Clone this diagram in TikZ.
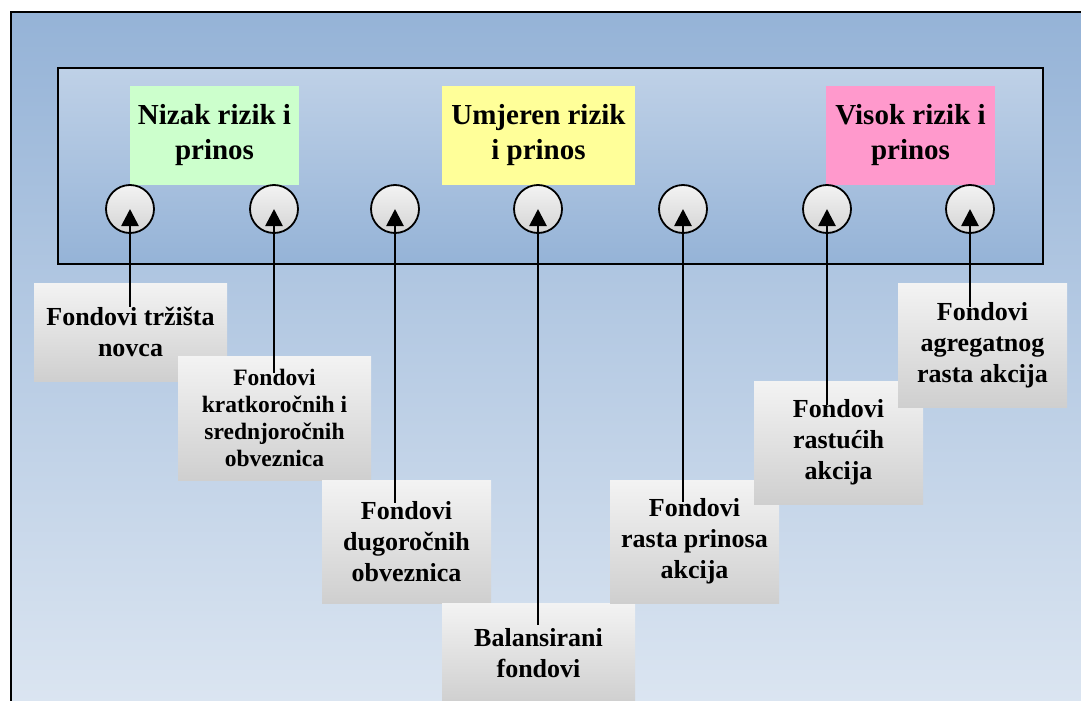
\documentclass[tikz,border=0pt]{standalone}
\usepackage{fontspec}
\setmainfont{Liberation Serif}
\usetikzlibrary{arrows.meta,calc}

\definecolor{plavaA}{RGB}{149,179,215}
\definecolor{plavaB}{RGB}{219,229,241}
\definecolor{plavaC}{RGB}{191,209,231}
\definecolor{sivaA}{RGB}{243,243,243}
\definecolor{sivaB}{RGB}{207,207,207}
\definecolor{sivaC}{RGB}{212,212,212}
\definecolor{zelena}{RGB}{204,255,204}
\definecolor{zuta}{RGB}{255,255,153}
\definecolor{roza}{RGB}{255,153,204}

\begin{document}
\begin{tikzpicture}[x=1pt, y=-1pt,
    okvir/.style ={draw, line width=1.8pt},
    rizik/.style ={inner sep=0pt, minimum height=99pt, align=center,
        font=\fontsize{29}{35}\selectfont\bfseries},
    fond/.style ={inner sep=0pt, minimum width=169pt, minimum height=123pt, align=center,
        top color=sivaA, bottom color=sivaB, font=\fontsize{26}{31}\selectfont\bfseries},
    krug/.style ={circle, draw, line width=1.8pt, inner sep=0pt, minimum size=48pt,
        top color=sivaA, bottom color=sivaC},
    veza/.style ={line width=2.7pt, -{Triangle[width=17pt,length=17pt]}}]

   \useasboundingbox (0,0) rectangle (1081,701);
   \clip (0,0) rectangle (1081,701);

   % pozadina i unutarnji okvir
   \draw[okvir, top color=plavaA, bottom color=plavaB] (11,12) rectangle (1084,704);
   \draw[okvir, top color=plavaC, bottom color=plavaA] (58,68) rectangle (1043,264);

   \node[rizik, fill=zelena, minimum width=169pt] (N) at (214.5,135.5) {Nizak rizik i\\prinos};
   \node[rizik, fill=zuta, minimum width=193pt] (U) at (538.5,135.5) {Umjeren rizik\\i prinos};
   \node[rizik, fill=roza, minimum width=169pt] (V) at (910.5,135.5) {Visok rizik i\\prinos};

   \node[krug] (K1) at (130,209) {};
   \node[krug] (K2) at (274,209) {};
   \node[krug] (K3) at (395,209) {};
   \node[krug] (K4) at (538,209) {};
   \node[krug] (K5) at (683,209) {};
   \node[krug] (K6) at (827,209) {};
   \node[krug] (K7) at (970,209) {};

   \node[fond, minimum width=193pt, minimum height=98pt] (F1) at (130.5,332) {Fondovi tržišta\\novca};
   \node[fond, minimum width=193pt, minimum height=124pt,
         font=\fontsize{23.5}{27}\selectfont\bfseries] (F2) at (274.5,418)
         {Fondovi\\kratkoročnih i\\srednjoročnih\\obveznica};
   \node[fond] (F3) at (406.5,541.5) {Fondovi\\dugoročnih\\obveznica};
   \node[fond, minimum width=193pt, minimum height=100pt] (F4) at (538.5,653) {Balansirani\\fondovi};
   \node[fond] (F5) at (694.5,541.5) {Fondovi\\rasta prinosa\\akcija};
   \node[fond] (F6) at (838.5,442.5) {Fondovi\\rastućih\\akcija};
   \node[fond, minimum height=124pt] (F7) at (982.5,345) {Fondovi\\agregatnog\\rasta akcija};

   \draw[veza] ($(F1.north -| K1)+(0,24)$) -- (K1.center);
   \draw[veza] ($(F2.north -| K2)+(0,17)$) -- (K2.center);
   \draw[veza] ($(F3.north -| K3)+(0,23)$) -- (K3.center);
   \draw[veza] ($(F4.north -| K4)+(0,22)$) -- (K4.center);
   \draw[veza] ($(F5.north -| K5)+(0,22)$) -- (K5.center);
   \draw[veza] ($(F6.north -| K6)+(0,24)$) -- (K6.center);
   \draw[veza] ($(F7.north -| K7)+(0,24)$) -- (K7.center);

\end{tikzpicture}
\end{document}
